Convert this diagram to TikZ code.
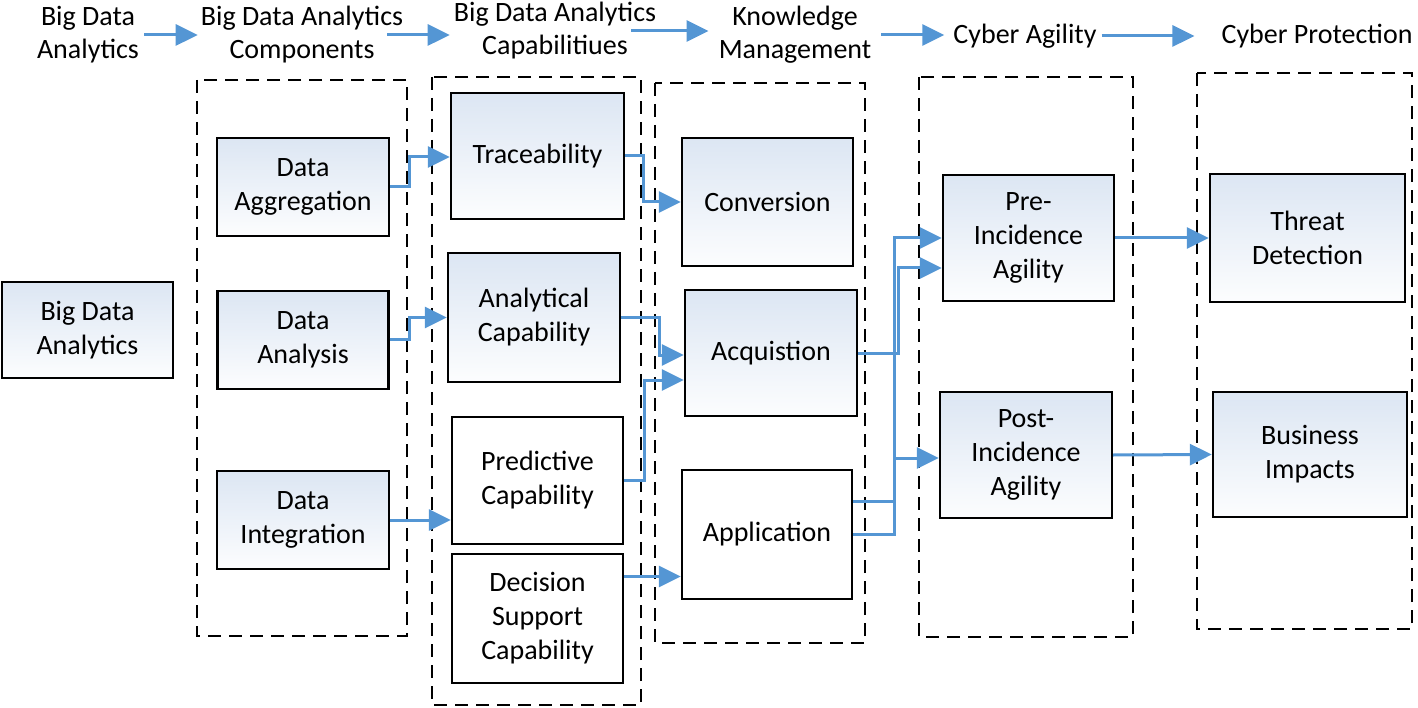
\documentclass[tikz,border=0pt]{standalone}
\usepackage{fontspec}
\setmainfont{Carlito}
\usetikzlibrary{arrows.meta}

\definecolor{flowblue}{RGB}{84,150,212}
\definecolor{boxtop}{RGB}{220,230,243}

\tikzset{
  blok/.style={draw=black, line width=2.4pt, top color=boxtop, bottom color=white!92!boxtop,
    align=center, inner sep=0pt, font=\fontsize{28}{34}\selectfont},
  blokw/.style={blok, top color=white, bottom color=white},
  kop/.style={align=center, inner sep=0pt, font=\fontsize{28}{33}\selectfont},
  flow/.style={draw=flowblue, line width=3pt, -{Triangle[length=22pt,width=21pt]}},
  grp/.style={draw=black, line width=2.8pt, dash pattern=on 13pt off 8pt},
}

\begin{document}
\begin{tikzpicture}[x=1pt,y=-1pt]
        \useasboundingbox (0,0) rectangle (1418,708);

        % Kopjes boven
        \node[kop] (h1) at (88,35) {Big Data\\Analytics};
        \node[kop] (h2) at (302,35) {Big Data Analytics\\Components};
        \node[kop] (h3) at (555,31) {Big Data Analytics\\Capabilitiues};
        \node[kop] (h4) at (795,35) {Knowledge\\Management};
        \node[kop] (h5) at (1025,36) {Cyber Agility};
        \node[kop] (h6) at (1317,36) {Cyber Protection};

        \draw[flow] ([xshift=5pt]h1.east) -- ([xshift=-3pt]h2.west |- h1.east);
        \draw[flow] ([xshift=-16pt]h2.east) -- ([xshift=-4pt]h3.west |- h2.east);
        \draw[flow] ([xshift=-25pt]h3.east) -- ([xshift=-10pt]h4.west |- h3.east);
        \draw[flow] ([xshift=10pt]h4.east) -- ([xshift=-9pt]h5.west |- h4.east);
        \draw[flow] ([xshift=5pt]h5.east) -- ([xshift=-27pt]h6.west);

        % Gestippelde groepen
        \draw[grp] (197,80) rectangle (407,636);
        \draw[grp] (432,77) rectangle (641,705);
        \draw[grp] (655,83) rectangle (865,643);
        \draw[grp] (919,77) rectangle (1133,637);
        \draw[grp] (1197,73) rectangle (1412,629);

        % Blokken
        \node[blok, minimum width=171pt, minimum height=96pt] (bda) at (87.5,330) {Big Data\\Analytics};

        \node[blok, minimum width=172pt, minimum height=98pt] (agg) at (303,187) {Data\\Aggregation};
        \node[blok, minimum width=171pt, minimum height=98pt] (ana) at (303,340) {Data\\Analysis};
        \node[blok, minimum width=172pt, minimum height=98pt] (integ) at (303,520) {Data\\Integration};

        \node[blok, minimum width=173pt, minimum height=126pt] (trace) at (537.5,156) {Traceability};
        \node[blok, minimum width=172pt, minimum height=129pt] (anacap) at (534,317.5) {Analytical\\Capability};
        \node[blokw, minimum width=171pt, minimum height=127pt] (pred) at (537.5,480.5) {Predictive\\Capability};
        \node[blokw, minimum width=171pt, minimum height=129pt] (dec) at (537.5,618.5) {Decision\\Support\\Capability};

        \node[blok, minimum width=171pt, minimum height=128pt] (conv) at (767.5,202) {Conversion};
        \node[blok, minimum width=172pt, minimum height=126pt] (acq) at (771,353) {Acquistion};
        \node[blokw, minimum width=170pt, minimum height=129pt] (app) at (767,534.5) {Application};

        \node[blok, minimum width=171pt, minimum height=126pt] (pre) at (1028.5,238) {Pre-\\Incidence\\Agility};
        \node[blok, minimum width=172pt, minimum height=126pt] (post) at (1026,455) {Post-\\Incidence\\Agility};

        \node[blok, minimum width=195pt, minimum height=128pt] (threat) at (1307.5,238) {Threat\\Detection};
        \node[blok, minimum width=194pt, minimum height=125pt] (bus) at (1310,454.5) {Business\\Impacts};

        % Verbindingen
        \draw[flow] (agg.east) -- ++(19,0) |- ([yshift=-1pt]trace.west);
        \draw[flow] (ana.east) -- ++(20,0) |- (anacap.west);
        \draw[flow] (integ.east) -- (integ.east -| pred.west);
        \draw[flow] (trace.east) -- ++(18,0) |- (conv.west);
        \draw[flow] (anacap.east) -- ++(38,0) |- ([yshift=-2pt]acq.west);
        \draw[flow] (pred.east) -- ++(20,0) |- ([yshift=-27pt]acq.west);
        \draw[flow] ([yshift=42pt]dec.east) -- ([yshift=42pt]dec.east -| app.west);
        \draw[flow] (acq.east) -- ++(40,0) |- ([yshift=-30pt]pre.west);
        \draw[flow] ([yshift=33pt]app.east) -- ++(41,0) |- (pre.west);
        \draw[flow] (app.east) -- ++(41,0) |- ([yshift=-3pt]post.west);
        \draw[flow] (pre.east) -- (threat.west);
        \draw[flow] (post.east) -- (bus.west);
      \end{tikzpicture}
\end{document}
